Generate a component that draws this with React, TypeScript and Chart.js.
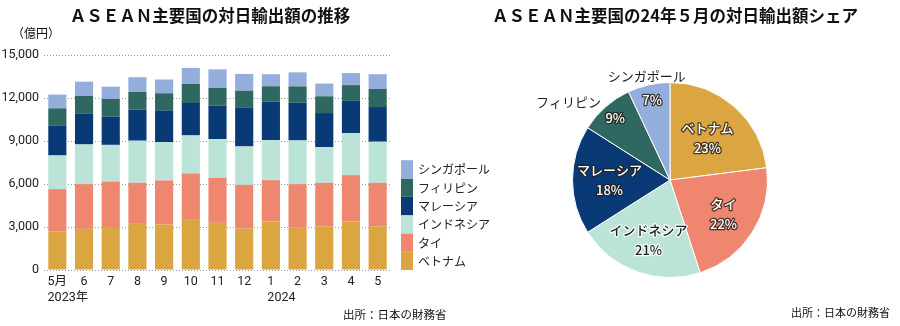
import React, { useEffect, useRef } from "react";
import { Chart, registerables } from "chart.js";
Chart.register(...registerables);

const months = ["5月", "6", "7", "8", "9", "10", "11", "12", "1", "2", "3", "4", "5"];
const yearLabels = [
  { index: 0, text: "2023年" },
  { index: 8, text: "2024" },
];
const yTicks = [0, 3000, 6000, 9000, 12000, 15000];

const seriesNames = ["ベトナム", "タイ", "インドネシア", "マレーシア", "フィリピン", "シンガポール"];
const seriesColors = ["#DBA542", "#EE8670", "#BCE3D8", "#093A75", "#2E6860", "#94AEDB"];

const vietnam = [2700, 2870, 3000, 3220, 3170, 3500, 3290, 2910, 3380, 2960, 3050, 3380, 3050];
const thai = [2940, 3120, 3170, 2860, 3080, 3240, 3140, 3030, 2890, 3030, 3030, 3240, 3030];
const indonesia = [2350, 2770, 2560, 2940, 2680, 2650, 2700, 2680, 2800, 3050, 2490, 2940, 2870];
const malaysia = [2100, 2170, 1960, 2170, 2210, 2260, 2330, 2730, 2680, 2630, 2380, 2240, 2420];
const philippines = [1190, 1210, 1240, 1230, 1190, 1330, 1240, 1160, 1070, 1140, 1170, 1100, 1260];
const singapore = [960, 1000, 860, 1030, 960, 1120, 1300, 1170, 840, 980, 890, 840, 1030];

const shareValues = [23, 22, 21, 18, 9, 7];

const FONT = "Roboto, 'Noto Sans CJK JP', sans-serif";
const JFONT = "'Noto Sans CJK JP', sans-serif";

const legendPlugin = {
  id: "sideLegend",
  afterDraw(chart: any) {
    const { ctx, chartArea } = chart;
    const boxW = 12;
    const boxH = 18.3;
    const x = chartArea.right + 10;
    const n = chart.data.datasets.length;
    ctx.save();
    ctx.font = `12px ${JFONT}`;
    ctx.textBaseline = "middle";
    ctx.textAlign = "left";
    for (let k = 0; k < n; k++) {
      const ds = chart.data.datasets[k];
      const top = chartArea.bottom - (k + 1) * boxH;
      ctx.fillStyle = ds.backgroundColor;
      ctx.fillRect(x, top, boxW, boxH);
      ctx.fillStyle = "#222";
      ctx.fillText(ds.label, x + boxW + 5, top + boxH / 2 + 0.5);
    }
    ctx.restore();
  },
};

const yearPlugin = {
  id: "yearLabels",
  afterDraw(chart: any) {
    const { ctx } = chart;
    const xs = chart.scales.x;
    ctx.save();
    ctx.font = `12.5px ${FONT}`;
    ctx.fillStyle = "#222";
    ctx.textBaseline = "middle";
    ctx.textAlign = "left";
    yearLabels.forEach((yl) => {
      const cx = xs.getPixelForValue(yl.index);
      const w = ctx.measureText(months[yl.index]).width;
      ctx.fillText(yl.text, cx - w / 2, 298);
    });
    ctx.restore();
  },
};

const pieLabelCfg = {
  inside: [true, true, true, true, false, false],
  pctRadius: [0.58, 0.65, 0.65, 0.62, 0.85, 0.84],
  nameRadius: [0, 0, 0, 0, 1.07, 1.09],
  nameAlign: ["center", "center", "center", "center", "right", "center"],
  darkText: [false, false, true, false, false, false],
};

const pieLabelPlugin = {
  id: "pieLabels",
  afterDatasetsDraw(chart: any) {
    const { ctx } = chart;
    const meta = chart.getDatasetMeta(0);
    const labels = chart.data.labels;
    const values = chart.data.datasets[0].data;
    ctx.save();
    ctx.textBaseline = "middle";
    ctx.lineJoin = "round";
    const outlined = (text: string, x: number, y: number, dark: boolean) => {
      ctx.lineWidth = 2.5;
      ctx.strokeStyle = dark ? "rgba(255,255,255,0.9)" : "rgba(40,30,25,0.85)";
      ctx.fillStyle = dark ? "#222" : "#fff";
      ctx.strokeText(text, x, y);
      ctx.fillText(text, x, y);
    };
    meta.data.forEach((arc: any, i: number) => {
      const p = arc.getProps(["x", "y", "startAngle", "endAngle", "outerRadius"], true);
      const mid = (p.startAngle + p.endAngle) / 2;
      const r = p.outerRadius;
      const pct = `${values[i]}%`;
      ctx.font = `500 13px ${JFONT}`;
      ctx.textAlign = "center";
      const px = p.x + Math.cos(mid) * r * pieLabelCfg.pctRadius[i];
      const py = p.y + Math.sin(mid) * r * pieLabelCfg.pctRadius[i];
      if (pieLabelCfg.inside[i]) {
        outlined(labels[i], px, py - 10, pieLabelCfg.darkText[i]);
        outlined(pct, px, py + 10, pieLabelCfg.darkText[i]);
      } else {
        outlined(pct, px, py, pieLabelCfg.darkText[i]);
        const nx = p.x + Math.cos(mid) * r * pieLabelCfg.nameRadius[i];
        const ny = p.y + Math.sin(mid) * r * pieLabelCfg.nameRadius[i];
        ctx.font = `13px ${JFONT}`;
        ctx.fillStyle = "#222";
        ctx.textAlign = pieLabelCfg.nameAlign[i];
        ctx.fillText(labels[i], nx, ny);
      }
    });
    ctx.restore();
  },
};

function BarChart() {
  const ref = useRef<HTMLCanvasElement>(null);
  useEffect(() => {
    const seriesData = [vietnam, thai, indonesia, malaysia, philippines, singapore];
    const chart = new Chart(ref.current!, {
      type: "bar",
      data: {
        labels: months,
        datasets: seriesData.map((d, i) => ({
          label: seriesNames[i],
          data: d,
          backgroundColor: seriesColors[i],
          borderWidth: 0,
          categoryPercentage: 1,
          barPercentage: 0.68,
        })),
      },
      options: {
        responsive: false,
        animation: false,
        layout: { padding: { top: 55, right: 129, left: 0, bottom: 0 } },
        plugins: { legend: { display: false }, tooltip: { enabled: false } },
        scales: {
          x: {
            stacked: true,
            grid: { display: false, drawTicks: false },
            border: { display: false },
            ticks: { color: "#222", font: { family: FONT, size: 12.5 }, padding: 4, maxRotation: 0, autoSkip: false },
            afterFit: (s: any) => {
              s.height = 56;
            },
          },
          y: {
            stacked: true,
            min: 0,
            max: 15000,
            afterBuildTicks: (s: any) => {
              s.ticks = yTicks.map((v) => ({ value: v }));
            },
            grid: { color: "#9a9a9a", lineWidth: 1, drawTicks: false },
            border: { display: false, dash: [1, 2] },
            ticks: {
              color: "#222",
              font: { family: FONT, size: 12.5 },
              padding: 5,
              callback: (v: any) => Number(v).toLocaleString("en-US"),
            },
            afterFit: (s: any) => {
              s.width = 44;
            },
          },
        },
      },
      plugins: [legendPlugin, yearPlugin],
    });
    return () => chart.destroy();
  }, []);
  return <canvas ref={ref} width={520} height={326} style={{ position: "absolute", left: 0, top: 0 }} />;
}

function PieChart() {
  const ref = useRef<HTMLCanvasElement>(null);
  useEffect(() => {
    const chart = new Chart(ref.current!, {
      type: "pie",
      data: {
        labels: seriesNames,
        datasets: [
          {
            data: shareValues,
            backgroundColor: seriesColors,
            borderColor: "#ffffff",
            borderWidth: 1,
          },
        ],
      },
      options: {
        responsive: false,
        animation: false,
        layout: { padding: { left: 122, right: 132, top: 82, bottom: 48 } },
        plugins: { legend: { display: false }, tooltip: { enabled: false } },
      },
      plugins: [pieLabelPlugin],
    });
    return () => chart.destroy();
  }, []);
  return <canvas ref={ref} width={450} height={326} style={{ position: "absolute", left: 450, top: 0 }} />;
}

const textBase: React.CSSProperties = {
  position: "absolute",
  fontFamily: JFONT,
  color: "#111",
  whiteSpace: "nowrap",
  lineHeight: 1,
};

export default function App() {
  return (
    <div style={{ position: "fixed", left: 0, top: 0, width: 900, height: 326, background: "#fff", overflow: "hidden" }}>
      <BarChart />
      <PieChart />
      <div style={{ ...textBase, left: 0, width: 420, top: 7, textAlign: "center", fontSize: 16.5, fontWeight: 700 }}>
        ＡＳＥＡＮ主要国の対日輸出額の推移
      </div>
      <div style={{ ...textBase, left: 480, width: 390, top: 7, textAlign: "center", fontSize: 16.5, fontWeight: 700 }}>
        ＡＳＥＡＮ主要国の24年５月の対日輸出額シェア
      </div>
      <div style={{ ...textBase, left: 12, top: 27, fontSize: 12 }}>（億円）</div>
      <div style={{ ...textBase, left: 343, top: 309, fontSize: 11.5 }}>出所：日本の財務省</div>
      <div style={{ ...textBase, left: 791, top: 307, fontSize: 11 }}>出所：日本の財務省</div>
    </div>
  );
}
